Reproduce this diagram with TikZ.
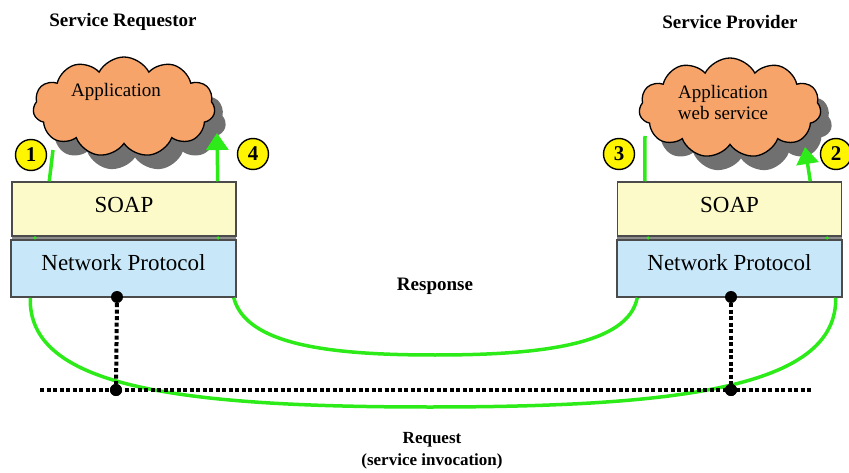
\documentclass[tikz,border=0pt]{standalone}
\usepackage{fontspec}
\setmainfont{Liberation Serif}
\usetikzlibrary{shapes.symbols,arrows.meta}
\definecolor{grn}{RGB}{45,235,25}
\definecolor{cloudor}{RGB}{246,164,106}
\definecolor{soapy}{RGB}{252,250,200}
\definecolor{netb}{RGB}{200,232,250}
\definecolor{shad}{RGB}{112,112,112}
\definecolor{ylw}{RGB}{255,245,0}
\definecolor{edge}{RGB}{75,75,75}
\definecolor{gapgray}{RGB}{140,140,140}
\begin{document}
\begin{tikzpicture}[x=1pt,y=-1pt,
 title/.style={font=\fontsize{19}{21}\selectfont\bfseries},
 cloudtext/.style={font=\fontsize{19}{21}\selectfont, align=center},
 cloudbase/.style={cloud, cloud puffs=11, cloud puff arc=125, cloud ignores aspect,
   minimum width=182pt, minimum height=100pt, inner sep=0pt},
 cloudnode/.style={cloudbase, draw=black, line width=1.3pt, fill=cloudor},
 cloudshadow/.style={cloudbase, fill=shad},
 layerbox/.style={draw=edge, line width=1.5pt, inner sep=0pt, font=\fontsize{23}{25}\selectfont},
 soapbox/.style={layerbox, fill=soapy, minimum width=224pt, minimum height=54pt, text depth=8pt},
 netbox/.style={layerbox, fill=netb, minimum width=225pt, minimum height=57pt, text depth=12pt},
 num/.style={circle, draw=black, line width=1.4pt, fill=ylw, minimum size=31pt, inner sep=0pt,
   font=\fontsize{21}{22}\selectfont\bfseries},
 flow/.style={draw=grn, line width=3.5pt},
 flowarrow/.style={flow, -{Triangle[width=22pt 0,length=17pt 0]}},
 ground/.style={draw=black, line width=4pt, dash pattern=on 4pt off 2.5pt},
 bdot/.style={circle, fill=black, minimum size=12pt, inner sep=0pt},
 gdot/.style={circle, fill=grn, minimum size=3.5pt, inner sep=0pt}
]
\useasboundingbox (0,0) rectangle (849,473);

% titles
\node[title] (tReq) at (123,22) {Service Requestor};
\node[title] (tProv) at (730,22) {Service Provider};

% named coordinates
\coordinate (gl) at (40,390);
\coordinate (gr) at (811,390);

% boxes (left)
\fill[gapgray] (12,234) rectangle (236,242);
\node[netbox] (netL) at (123.5,268.5) {Network Protocol};
\node[soapbox] (soapL) at (124,209) {SOAP};
% boxes (right)
\fill[gapgray] (617,234) rectangle (842,242);
\node[netbox] (netR) at (729.5,268.5) {Network Protocol};
\node[soapbox] (soapR) at (729.5,209) {SOAP};

% green curves
\draw[flow] ([xshift=-3pt]netL.south east) .. controls (246,345) and (330,355) .. (435,355)
  .. controls (540,355) and (628,345) .. ([xshift=21pt]netR.south west);
\draw[flow] ([xshift=20pt]netL.south west) .. controls (28,385) and (170,407) .. (430,407)
  .. controls (690,407) and (837,385) .. ([xshift=-7pt]netR.south east);

% dotted ground line and drops
\node[bdot] (dL1) at (117,297) {};
\node[bdot] (dL2) at (116,390) {};
\node[bdot] (dR1) at (731,297) {};
\node[bdot] (dR2) at (731,390) {};
\draw[ground] (gl) -- (gr);
\draw[ground] (dL1) -- (dL2);
\draw[ground] (dR1) -- (dR2);
\node[bdot] at (dL2) {};
\node[bdot] at (dR2) {};

% junction green dots
\node[gdot] (j1) at (35,238) {};
\node[gdot] (j2) at (218,238) {};
\node[gdot] (j3) at (648,238) {};
\node[gdot] (j4) at (827,238) {};

% clouds
\node[cloudshadow] (shL) at (135,121) {};
\node[cloudnode] (cloudL) at (124,107) {};
\node[cloudtext] (appL) at (116,92) {Application};
\node[cloudshadow] (shR) at (741,122) {};
\node[cloudnode] (cloudR) at (730,108) {};
\node[cloudtext] (appR) at (723,102.5) {Application\\web service};

% arrow end coordinates
\coordinate (e1) at (53,150);
\coordinate (e4) at (217,133);
\coordinate (e3) at (645,136);
\coordinate (e2) at (805,147);

\draw[flow] ([xshift=38pt]soapL.north west) -- (e1);
\draw[flowarrow] ([xshift=-19pt]soapL.north east) -- (e4);
\draw[flow] ([xshift=28pt]soapR.north west) -- (e3);
\draw[flowarrow] ([xshift=-32pt]soapR.north east) -- (e2);

% numbers
\node[num] (n1) at (31,155) {1};
\node[num] (n4) at (253,154) {4};
\node[num] (n3) at (619,154) {3};
\node[num] (n2) at (836,154) {2};

% labels
\node[title] (resp) at (435,286) {Response};
\node[font=\fontsize{17}{22}\selectfont\bfseries, align=center] (req) at (432,451) {Request\\(service invocation)};
\end{tikzpicture}
\end{document}
